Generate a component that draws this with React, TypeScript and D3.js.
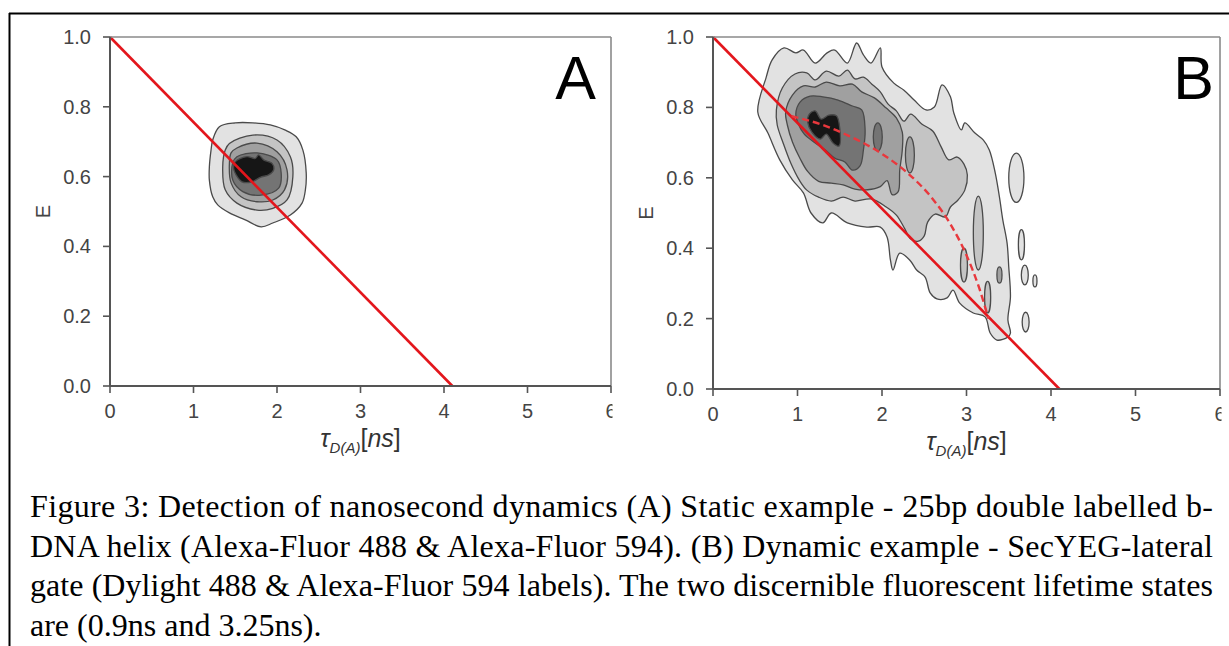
import React from "react"
import * as d3 from "d3"

type Pt = [number, number]
type Island = [number, number, number, number, number] // tau, E, r tau, r E, level

const xTicks = [0, 1, 2, 3, 4, 5, 6]
const yTicks = [0, 0.2, 0.4, 0.6, 0.8, 1.0]
const yTickLabels = ["0.0", "0.2", "0.4", "0.6", "0.8", "1.0"]

// static FRET line, tau_D = 4.1 ns
const staticFretLine: Pt[] = [[0, 1], [4.1, 0]]
// dynamic FRET line between 0.9 ns and 3.25 ns
const dynamicFretLine: Pt[] = [
  [0.93, 0.775], [1.3, 0.75], [1.6, 0.72], [2.0, 0.668], [2.3, 0.614],
  [2.6, 0.54], [2.8, 0.472], [3.0, 0.38], [3.15, 0.287], [3.26, 0.2]
]

const levelFills = ["#e2e2e2", "#c4c4c4", "#a0a0a0", "#747474", "#161616"]

// panel A contour levels, outermost first
const staticLevel1: Pt[] = [
  [1.31, 0.743], [1.5, 0.754], [1.71, 0.754], [1.92, 0.748], [2.1, 0.733], [2.23, 0.714],
  [2.31, 0.676], [2.35, 0.61], [2.34, 0.562], [2.3, 0.524], [2.16, 0.49], [1.95, 0.467],
  [1.81, 0.456], [1.62, 0.476], [1.43, 0.496], [1.29, 0.519], [1.23, 0.542], [1.19, 0.59],
  [1.19, 0.628], [1.21, 0.676], [1.23, 0.705]
]
const staticLevel2: Pt[] = [
  [1.43, 0.695], [1.71, 0.719], [2.0, 0.705], [2.16, 0.657], [2.19, 0.6], [2.12, 0.533],
  [1.95, 0.509], [1.76, 0.504], [1.52, 0.524], [1.38, 0.562], [1.35, 0.628], [1.38, 0.676]
]
const staticLevel3: Pt[] = [
  [1.52, 0.682], [1.76, 0.696], [2.0, 0.671], [2.12, 0.619], [2.09, 0.562], [1.95, 0.533],
  [1.76, 0.528], [1.57, 0.542], [1.45, 0.582], [1.43, 0.639], [1.45, 0.668]
]
const staticLevel4: Pt[] = [
  [1.52, 0.657], [1.76, 0.668], [2.0, 0.648], [2.05, 0.61], [2.02, 0.567], [1.81, 0.547],
  [1.59, 0.557], [1.47, 0.59], [1.47, 0.639]
]
const staticLevel5: Pt[] = [
  [1.5, 0.643], [1.64, 0.657], [1.74, 0.652], [1.78, 0.662], [1.84, 0.648], [1.94, 0.638],
  [1.96, 0.619], [1.9, 0.605], [1.8, 0.598], [1.7, 0.585], [1.58, 0.585], [1.51, 0.605],
  [1.48, 0.624]
]

// panel B contour levels, outermost first
const dynamicLevel1: Pt[] = [
  [0.53, 0.787], [0.63, 0.886], [0.7, 0.935], [0.84, 0.969], [0.98, 0.955], [1.07, 0.963],
  [1.21, 0.926], [1.35, 0.955], [1.44, 0.963], [1.59, 0.926], [1.7, 0.983], [1.78, 0.949],
  [1.87, 0.926], [1.98, 0.969], [2.0, 0.915], [2.14, 0.869], [2.26, 0.849], [2.38, 0.821],
  [2.52, 0.793], [2.62, 0.801], [2.71, 0.864], [2.81, 0.83], [2.85, 0.784], [2.94, 0.736],
  [2.98, 0.756], [3.1, 0.727], [3.2, 0.707], [3.27, 0.679], [3.34, 0.614], [3.39, 0.545],
  [3.43, 0.48], [3.48, 0.415], [3.5, 0.347], [3.52, 0.261], [3.49, 0.196], [3.52, 0.159],
  [3.49, 0.148], [3.36, 0.139], [3.28, 0.159], [3.22, 0.205], [3.08, 0.216], [2.92, 0.244],
  [2.84, 0.281], [2.77, 0.259], [2.65, 0.256], [2.57, 0.273], [2.51, 0.318], [2.41, 0.338],
  [2.33, 0.366], [2.21, 0.386], [2.13, 0.338], [2.1, 0.366], [2.06, 0.432], [1.98, 0.46],
  [1.82, 0.46], [1.59, 0.472], [1.4, 0.5], [1.3, 0.472], [1.16, 0.5], [1.07, 0.557],
  [0.94, 0.594], [0.79, 0.651], [0.65, 0.727]
]
const dynamicLevel2: Pt[] = [
  [0.75, 0.793], [0.82, 0.855], [0.97, 0.895], [1.11, 0.898], [1.21, 0.878], [1.34, 0.903],
  [1.49, 0.889], [1.59, 0.906], [1.68, 0.881], [1.78, 0.886], [1.88, 0.866], [1.98, 0.844],
  [2.07, 0.81], [2.17, 0.79], [2.26, 0.761], [2.34, 0.781], [2.47, 0.753], [2.6, 0.733],
  [2.7, 0.688], [2.79, 0.651], [2.89, 0.659], [2.97, 0.639], [3.01, 0.608], [2.98, 0.565],
  [2.9, 0.537], [2.81, 0.517], [2.75, 0.489], [2.63, 0.497], [2.54, 0.474], [2.5, 0.435],
  [2.43, 0.42], [2.34, 0.426], [2.27, 0.455], [2.17, 0.494], [2.05, 0.517], [1.87, 0.54],
  [1.68, 0.534], [1.54, 0.545], [1.4, 0.534], [1.25, 0.545], [1.11, 0.565], [1.02, 0.594],
  [0.92, 0.642], [0.83, 0.699], [0.76, 0.75]
]
const dynamicLevel3: Pt[] = [
  [0.86, 0.787], [0.94, 0.835], [1.07, 0.861], [1.21, 0.858], [1.34, 0.872], [1.5, 0.861],
  [1.65, 0.866], [1.76, 0.844], [1.91, 0.827], [2.05, 0.798], [2.17, 0.77], [2.24, 0.73],
  [2.24, 0.679], [2.21, 0.622], [2.19, 0.56], [2.12, 0.552], [2.06, 0.592], [1.98, 0.575],
  [1.83, 0.566], [1.68, 0.568], [1.54, 0.58], [1.4, 0.585], [1.25, 0.59], [1.12, 0.618],
  [1.03, 0.655], [0.94, 0.702], [0.88, 0.75]
]
const dynamicLevel4: Pt[] = [
  [0.98, 0.781], [1.03, 0.815], [1.15, 0.832], [1.3, 0.83], [1.48, 0.821], [1.65, 0.804],
  [1.76, 0.793], [1.8, 0.736], [1.78, 0.679], [1.74, 0.634], [1.65, 0.622], [1.56, 0.645],
  [1.44, 0.656], [1.33, 0.679], [1.21, 0.699], [1.08, 0.724], [1.01, 0.753]
]
const dynamicLevel5: Pt[] = [
  [1.14, 0.781], [1.21, 0.79], [1.28, 0.767], [1.37, 0.778], [1.46, 0.776], [1.5, 0.741],
  [1.49, 0.69], [1.42, 0.699], [1.34, 0.724], [1.27, 0.71], [1.17, 0.73], [1.12, 0.759]
]
const dynamicIslands: Island[] = [
  [3.59, 0.6, 0.09, 0.07, 0],
  [3.65, 0.41, 0.036, 0.043, 0],
  [3.69, 0.324, 0.041, 0.028, 0],
  [3.81, 0.307, 0.024, 0.017, 0],
  [3.7, 0.19, 0.041, 0.028, 0],
  [3.39, 0.324, 0.03, 0.023, 2],
  [3.14, 0.443, 0.059, 0.105, 1],
  [2.97, 0.352, 0.041, 0.048, 1],
  [3.25, 0.261, 0.036, 0.045, 1],
  [1.95, 0.716, 0.053, 0.04, 3],
  [2.33, 0.665, 0.053, 0.051, 2]
]

const captionLines = [
  "Figure 3: Detection of nanosecond dynamics (A) Static example - 25bp double labelled b-",
  "DNA helix (Alexa-Fluor 488 & Alexa-Fluor 594). (B) Dynamic example - SecYEG-lateral",
  "gate (Dylight 488 & Alexa-Fluor 594 labels). The two discernible fluorescent lifetime states",
  "are (0.9ns and 3.25ns)."
]

const sans = "'Liberation Sans', Arial, sans-serif"

function Panel( { id, left, right, top, bottom, letter, letterX, levels, islands, dashed } ) {
  const x = d3.scaleLinear().domain( [ 0, 6 ] ).range( [ left, right ] )
  const y = d3.scaleLinear().domain( [ 0, 1 ] ).range( [ bottom, top ] )

  const blob = d3
    .line<Pt>()
    .x( d => x( d[ 0 ] ) )
    .y( d => y( d[ 1 ] ) )
    .curve( d3.curveCatmullRomClosed.alpha( 0.5 ) )
  const straight = d3
    .line<Pt>()
    .x( d => x( d[ 0 ] ) )
    .y( d => y( d[ 1 ] ) )
  const curved = d3
    .line<Pt>()
    .x( d => x( d[ 0 ] ) )
    .y( d => y( d[ 1 ] ) )
    .curve( d3.curveMonotoneX )

  const midX = ( left + right ) / 2
  const midY = ( top + bottom ) / 2

  return (
    <g>
      <clipPath id={id}>
        <rect x={0} y={0} width={right + 1.5} height={646} />
      </clipPath>
      <g clipPath={`url(#${id})`}>
        {levels.map( ( lv, i ) => (
          <path key={i} d={blob( lv )} fill={levelFills[ i ]} stroke="#4a4a4a" strokeWidth={1.3} />
        ) )}
        {( islands || [] ).map( ( d, i ) => (
          <ellipse
            key={"is" + i}
            cx={x( d[ 0 ] )}
            cy={y( d[ 1 ] )}
            rx={x( d[ 2 ] ) - x( 0 )}
            ry={y( 0 ) - y( d[ 3 ] )}
            fill={levelFills[ d[ 4 ] ]}
            stroke="#4a4a4a"
            strokeWidth={1.3}
          />
        ) )}
        <path d={straight( staticFretLine )} stroke="#e3161c" strokeWidth={2.6} fill="none" />
        {dashed && (
          <path
            d={curved( dashed )}
            stroke="#e8383d"
            strokeWidth={2.4}
            strokeDasharray="7 4"
            fill="none"
          />
        )}

        {/* frame: light top / right, darker left / bottom */}
        <line x1={left} x2={right} y1={top} y2={top} stroke="#8a8a8a" strokeWidth={1.6} />
        <line x1={right} x2={right} y1={top} y2={bottom} stroke="#8a8a8a" strokeWidth={1.6} />
        <line x1={left} x2={right} y1={bottom} y2={bottom} stroke="#555" strokeWidth={2} />
        <line x1={left} x2={left} y1={top} y2={bottom} stroke="#555" strokeWidth={2} />

        {xTicks.map( t => (
          <g key={"x" + t}>
            <line x1={x( t )} x2={x( t )} y1={bottom} y2={bottom + 7} stroke="#555" strokeWidth={1.6} />
            <text
              x={x( t )}
              y={bottom + 32}
              textAnchor="middle"
              fontFamily={sans}
              fontSize={20}
              fill="#444"
            >
              {t}
            </text>
          </g>
        ) )}
      </g>

      {yTicks.map( ( t, i ) => (
        <g key={"y" + t}>
          <line x1={left - 7} x2={left} y1={y( t )} y2={y( t )} stroke="#555" strokeWidth={1.6} />
          <text
            x={left - 19}
            y={y( t ) + 7}
            textAnchor="end"
            fontFamily={sans}
            fontSize={20}
            fill="#444"
          >
            {yTickLabels[ i ]}
          </text>
        </g>
      ) )}

      <text
        transform={`translate(${left - 60},${midY}) rotate(-90)`}
        textAnchor="middle"
        fontFamily={sans}
        fontSize={20}
        fill="#444"
      >
        E
      </text>

      <text x={midX} y={bottom + 61} textAnchor="middle" fontFamily={sans} fontSize={25} fill="#333">
        <tspan fontStyle="italic">τ</tspan>
        <tspan fontStyle="italic" fontSize={15} dy={6}>D(A)</tspan>
        <tspan dy={-6}>[</tspan>
        <tspan fontStyle="italic">ns</tspan>
        <tspan>]</tspan>
      </text>

      <text x={letterX} y={top + 62} textAnchor="end" fontFamily={sans} fontSize={61} fill="#000">
        {letter}
      </text>
    </g>
  )
}

export default function App() {
  return (
    <div style={{ position: "fixed", left: 0, top: 0 }}>
      <svg width={1229} height={646} style={{ display: "block", background: "#fff" }}>
        <line x1={9} x2={1229} y1={13.5} y2={13.5} stroke="#000" strokeWidth={2} />
        <line x1={9.5} x2={9.5} y1={13} y2={646} stroke="#000" strokeWidth={2} />

        <Panel
          id="clipA"
          left={110}
          right={611}
          top={37}
          bottom={386}
          letter="A"
          letterX={596}
          levels={[ staticLevel1, staticLevel2, staticLevel3, staticLevel4, staticLevel5 ]}
          islands={null}
          dashed={null}
        />
        <Panel
          id="clipB"
          left={713}
          right={1220}
          top={37}
          bottom={389}
          letter="B"
          letterX={1214}
          levels={[ dynamicLevel1, dynamicLevel2, dynamicLevel3, dynamicLevel4, dynamicLevel5 ]}
          islands={dynamicIslands}
          dashed={dynamicFretLine}
        />

        {captionLines.map( ( line, i ) => (
          <text
            key={i}
            x={30}
            y={517 + i * 39.5}
            fontFamily="'Liberation Serif', 'Times New Roman', serif"
            fontSize={32}
            fill="#000"
            textLength={i < 3 ? 1183 : undefined}
            lengthAdjust={i < 3 ? "spacing" : undefined}
          >
            {line}
          </text>
        ) )}
      </svg>
    </div>
  )
}
